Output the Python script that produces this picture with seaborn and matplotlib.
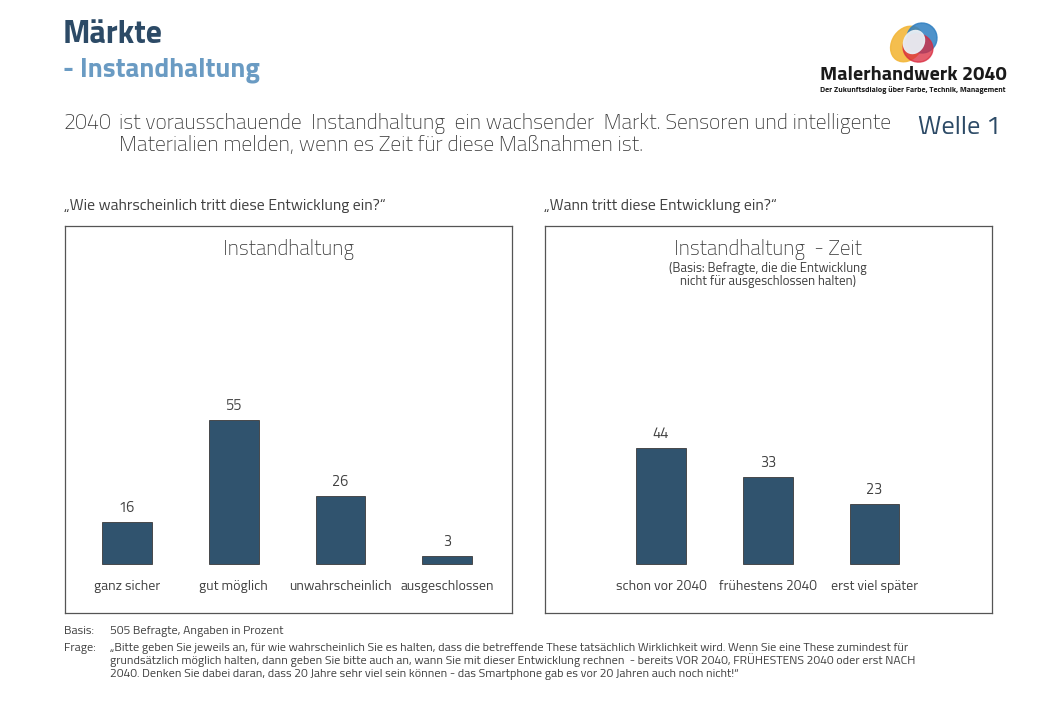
import matplotlib
matplotlib.use("Agg")
import matplotlib.pyplot as plt
from matplotlib.patches import Ellipse
import seaborn as sns
import pandas as pd

# Data
cats_left = ["ganz sicher", "gut möglich", "unwahrscheinlich", "ausgeschlossen"]
vals_left = [16, 55, 26, 3]
cats_right = ["schon vor 2040", "frühestens 2040", "erst viel später"]
vals_right = [44, 33, 23]

BAR = "#30536e"
TXT = "#404040"
DARK = "#2c4a66"
LIGHT = "#6a9bc3"

sns.set_theme(style="white")
plt.rcParams["font.family"] = ["Titillium Web", "IBM Plex Sans Condensed", "DejaVu Sans"]

W, H = 1040, 720
fig = plt.figure(figsize=(W / 100, H / 100), dpi=100)


def fx(x):
    return x / W


def fy(y):
    return 1 - y / H


def panel(left, right, cats, vals, xlim, title, sub=None):
    ax = fig.add_axes([fx(left), fy(613), fx(right - left), (613 - 225.5) / H])
    df = pd.DataFrame({"cat": cats, "val": vals})
    sns.barplot(data=df, x="cat", y="val", color=BAR, width=0.465, ax=ax,
                edgecolor="#3a3a3a", linewidth=0.6, saturation=1)
    ax.set_xlim(*xlim)
    ax.set_ylim(-18.7, 128.9)
    ax.set_xticks([])
    ax.set_yticks([])
    ax.set_xlabel("")
    ax.set_ylabel("")
    for s in ax.spines.values():
        s.set_visible(True)
        s.set_color("#555555")
        s.set_linewidth(0.9)
    ax.bar_label(ax.containers[0], padding=5, fontsize=10.5, color=TXT)
    for i, c in enumerate(cats):
        ax.text(i, -8.6, c, ha="center", va="center", fontsize=10, color=TXT)
    cx = (left + right) / 2
    fig.text(fx(cx), fy(250), title, ha="center", va="center", fontsize=15.2,
             fontweight="light", color="#333333")
    if sub:
        fig.text(fx(cx), fy(275), sub, ha="center", va="center", fontsize=9.4,
                 color=TXT, linespacing=1.0)
    return ax


panel(64.7, 512, cats_left, vals_left, (-0.583, 3.606), "Instandhaltung")
panel(544.7, 992, cats_right, vals_right, (-1.09, 3.10), "Instandhaltung  - Zeit",
      "(Basis: Befragte, die die Entwicklung\nnicht für ausgeschlossen halten)")

# Header
fig.text(fx(63), fy(35), "Märkte", fontsize=23, fontweight="bold", color=DARK, va="center")
fig.text(fx(63), fy(70), "- Instandhaltung", fontsize=19.5, fontweight="bold", color=LIGHT, va="center")

body = dict(fontsize=15.5, fontweight="light", color="#333333", va="baseline")
fig.text(fx(63), fy(129), "2040", **body)
fig.text(fx(119), fy(129), "ist vorausschauende  Instandhaltung  ein wachsender  Markt. Sensoren und intelligente", **body)
fig.text(fx(119), fy(151), "Materialien melden, wenn es Zeit für diese Maßnahmen ist.", **body)
fig.text(fx(1001), fy(128), "Welle 1", fontsize=19, fontweight="normal", color=DARK,
         va="center", ha="right")

fig.text(fx(64), fy(206), "„Wie wahrscheinlich tritt diese Entwicklung ein?“", fontsize=11.3, color=TXT, va="center")
fig.text(fx(544), fy(206), "„Wann tritt diese Entwicklung ein?“", fontsize=11.3, color=TXT, va="center")

# Logo
lax = fig.add_axes([fx(880), fy(66), fx(70), 46 / H])
lax.set_xlim(0, 70)
lax.set_ylim(0, 46)
lax.axis("off")
lax.add_patch(Ellipse((27, 22), 30, 38, angle=-35, color="#f3b73b", alpha=0.9))
lax.add_patch(Ellipse((42, 28), 30, 30, angle=20, color="#2f7fc1", alpha=0.85))
lax.add_patch(Ellipse((38, 18), 30, 28, angle=-20, color="#d9283c", alpha=0.75))
lax.add_patch(Ellipse((34, 24), 20, 24, angle=-30, color="#e8eef4", alpha=0.95))
fig.text(fx(913), fy(75), "Malerhandwerk 2040", fontsize=14.4, fontweight="bold",
         color="#1a1a1a", ha="center", va="center")
fig.text(fx(913), fy(90), "Der Zukunftsdialog über Farbe, Technik, Management", fontsize=5.75,
         fontweight="bold", color="#1a1a1a", ha="center", va="center")

# Footer
fs = 8.75
foot = dict(fontsize=fs, color=TXT, va="baseline")
fig.text(fx(64), fy(634), "Basis:", **foot)
fig.text(fx(110), fy(634), "505 Befragte, Angaben in Prozent", **foot)
fig.text(fx(64), fy(651), "Frage:", **foot)
footer = [
    "„Bitte geben Sie jeweils an, für wie wahrscheinlich Sie es halten, dass die betreffende These tatsächlich Wirklichkeit wird. Wenn Sie eine These zumindest für",
    "grundsätzlich möglich halten, dann geben Sie bitte auch an, wann Sie mit dieser Entwicklung rechnen  - bereits VOR 2040, FRÜHESTENS 2040 oder erst NACH",
    "2040. Denken Sie dabei daran, dass 20 Jahre sehr viel sein können - das Smartphone gab es vor 20 Jahren auch noch nicht!“",
]
for i, line in enumerate(footer):
    fig.text(fx(110), fy(651 + 13 * i), line, **foot)

fig.savefig("out.png", dpi=100, facecolor="white")
